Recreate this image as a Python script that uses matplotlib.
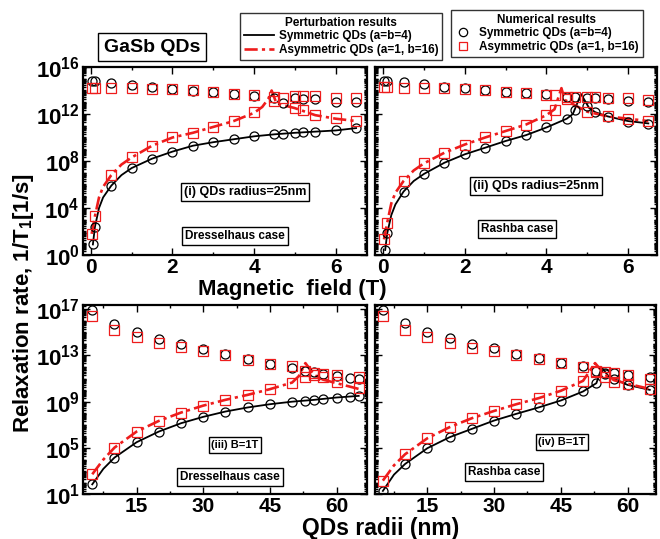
import numpy as np
import matplotlib
matplotlib.use('Agg')
import matplotlib.pyplot as plt
from matplotlib.lines import Line2D
from matplotlib.ticker import FixedLocator, NullFormatter

plt.rcParams['font.family'] = ['Liberation Sans', 'DejaVu Sans']
plt.rcParams['font.weight'] = 'bold'
plt.rcParams['mathtext.fontset'] = 'custom'
plt.rcParams['mathtext.rm'] = 'Liberation Sans:bold'
plt.rcParams['mathtext.bf'] = 'Liberation Sans:bold'
plt.rcParams['mathtext.it'] = 'Liberation Sans:bold'

# ---------------- data (log10 of relaxation rate, 1/s) ----------------
# (i) Dresselhaus, R=25nm, vs magnetic field
tl_ch_x = [0.02, 0.1, 0.5, 1, 1.5, 2, 2.5, 3, 3.5, 4, 4.5, 4.7, 5, 5.2, 5.5, 6, 6.5]
tl_ch_y = [14.8, 14.8, 14.67, 14.5, 14.3, 14.1, 13.95, 13.85, 13.7, 13.56, 13.4, 12.9, 13.35, 13.3, 13.28, 13.05, 13.0]
tl_sh_x = [0.02, 0.1, 0.5, 1, 1.5, 2, 2.5, 3, 3.5, 4, 4.5, 4.7, 5, 5.2, 5.5, 6, 6.5]
tl_sh_y = [14.2, 14.2, 14.2, 14.2, 14.1, 14.1, 14.0, 13.85, 13.7, 13.6, 13.45, 13.4, 13.56, 13.56, 13.5, 13.4, 13.4]
tl_cl_x = [0.05, 0.1, 0.5, 1, 1.5, 2, 2.5, 3, 3.5, 4, 4.5, 4.7, 5, 5.2, 5.5, 6, 6.5]
tl_cl_y = [0.9, 2.4, 5.9, 7.4, 8.2, 8.8, 9.3, 9.6, 9.85, 10.1, 10.27, 10.3, 10.4, 10.45, 10.5, 10.6, 10.8]
tl_sl_x = [0.02, 0.1, 0.5, 1, 1.5, 2, 2.5, 3, 3.5, 4, 4.5, 5, 5.2, 5.5, 6, 6.5]
tl_sl_y = [1.8, 3.3, 6.8, 8.3, 9.3, 10.0, 10.4, 10.9, 11.4, 12.14, 13.1, 12.5, 12.3, 11.9, 11.7, 11.4]
tl_sym_x = [0.05, 0.1, 0.2, 0.3, 0.5, 0.75, 1, 1.5, 2, 2.5, 3, 3.5, 4, 4.5, 5, 5.5, 6, 6.5]
tl_sym_y = [0.9, 2.4, 4.0, 4.9, 5.9, 6.8, 7.4, 8.2, 8.8, 9.3, 9.6, 9.85, 10.1, 10.27, 10.4, 10.5, 10.6, 10.8]
tl_asy_x = [0.02, 0.1, 0.2, 0.3, 0.5, 0.75, 1, 1.5, 2, 2.5, 3, 3.5, 4, 4.2, 4.35, 4.43, 4.55, 5, 5.5, 6, 6.5]
tl_asy_y = [1.8, 3.3, 4.9, 5.8, 6.8, 7.7, 8.3, 9.3, 10.0, 10.4, 10.9, 11.4, 12.1, 12.6, 13.3, 14.0, 12.9, 12.5, 11.9, 11.6, 11.4]

# (ii) Rashba, R=25nm, vs magnetic field
tr_ch_x = [0.02, 0.1, 0.5, 1, 1.5, 2, 2.5, 3, 3.5, 4, 4.5, 4.7, 5, 5.2, 5.5, 6, 6.5]
tr_ch_y = [14.83, 14.83, 14.75, 14.55, 14.3, 14.2, 14.0, 13.9, 13.76, 13.67, 13.42, 13.42, 13.33, 13.33, 13.28, 13.13, 13.05]
tr_sh_x = [0.02, 0.1, 0.5, 1, 1.5, 2, 2.5, 3, 3.5, 4, 4.2, 4.5, 4.7, 5, 5.2, 5.5, 6, 6.5]
tr_sh_y = [14.27, 14.27, 14.2, 14.2, 14.2, 14.1, 14.0, 13.9, 13.76, 13.6, 13.6, 13.42, 13.47, 13.47, 13.47, 13.4, 13.4, 13.2]
tr_cl_x = [0.05, 0.1, 0.5, 1, 1.5, 2, 2.5, 3, 3.5, 4, 4.5, 4.7, 5, 5.2, 5.5, 6, 6.5]
tr_cl_y = [0.43, 1.85, 5.4, 6.9, 7.85, 8.57, 9.13, 9.7, 10.2, 10.87, 11.6, 12.3, 12.7, 12.2, 11.77, 11.35, 11.15]
tr_sl_x = [0.02, 0.1, 0.5, 1, 1.5, 2, 2.5, 3, 3.5, 4, 4.2, 4.5, 5, 5.5, 6, 6.5]
tr_sl_y = [1.33, 2.75, 6.3, 7.8, 8.7, 9.4, 10.0, 10.55, 11.1, 11.9, 12.35, 13.3, 12.2, 11.8, 11.6, 11.4]
tr_sym_x = [0.05, 0.1, 0.2, 0.3, 0.5, 0.75, 1, 1.5, 2, 2.5, 3, 3.5, 4, 4.5, 4.65, 4.85, 5.05, 5.2, 5.5, 6, 6.5]
tr_sym_y = [0.43, 1.85, 3.4, 4.3, 5.4, 6.3, 6.9, 7.85, 8.57, 9.13, 9.7, 10.2, 10.85, 11.6, 12.0, 13.7, 12.5, 12.15, 11.8, 11.4, 11.2]
tr_asy_x = [0.02, 0.1, 0.2, 0.3, 0.5, 0.75, 1, 1.5, 2, 2.5, 3, 3.5, 4, 4.2, 4.37, 4.45, 5, 5.5, 6, 6.5]
tr_asy_y = [1.33, 2.75, 4.4, 5.3, 6.3, 7.2, 7.8, 8.7, 9.4, 10.0, 10.55, 11.1, 11.9, 12.4, 14.2, 13.2, 12.2, 11.8, 11.6, 11.4]

# (iii) Dresselhaus, B=1T, vs radius
bl_ch_x = [5, 10, 15, 20, 25, 30, 35, 40, 45, 50, 53, 55, 57, 60, 63, 65]
bl_ch_y = [16.94, 15.73, 14.98, 14.43, 13.97, 13.54, 13.1, 12.68, 12.27, 11.95, 11.67, 11.55, 11.38, 11.26, 11.03, 10.95]
bl_sh_x = [5, 10, 15, 20, 25, 30, 35, 40, 45, 50, 53, 55, 57, 60, 65]
bl_sh_y = [16.36, 15.2, 14.55, 14.06, 13.68, 13.34, 13.0, 12.6, 12.27, 12.04, 11.67, 11.47, 11.4, 11.3, 11.09]
bl_cl_x = [5, 10, 15, 20, 25, 30, 35, 40, 45, 50, 53, 55, 57, 60, 63, 65]
bl_cl_y = [1.86, 4.17, 5.5, 6.42, 7.14, 7.69, 8.15, 8.5, 8.78, 9.0, 9.1, 9.16, 9.2, 9.36, 9.44, 9.5]
bl_sl_x = [5, 10, 15, 20, 25, 30, 35, 40, 45, 50, 53, 55, 57, 60, 65]
bl_sl_y = [2.73, 5.03, 6.42, 7.34, 8.06, 8.66, 9.16, 9.59, 10.08, 10.65, 11.09, 11.32, 11.17, 10.69, 10.17]
bl_sym_x = [5, 7.5, 10, 15, 20, 25, 30, 35, 40, 45, 50, 55, 60, 65]
bl_sym_y = [1.86, 3.2, 4.17, 5.5, 6.42, 7.14, 7.69, 8.15, 8.5, 8.78, 9.0, 9.16, 9.36, 9.5]
bl_asy_x = [5, 7.5, 10, 15, 20, 25, 30, 35, 40, 45, 50, 51.5, 53, 55, 57, 60, 65]
bl_asy_y = [2.73, 4.0, 5.03, 6.42, 7.34, 8.06, 8.66, 9.16, 9.59, 10.08, 10.65, 11.2, 12.33, 11.3, 10.9, 10.6, 10.1]

# (iv) Rashba, B=1T, vs radius
br_ch_x = [5, 10, 15, 20, 25, 30, 35, 40, 45, 50, 53, 55, 57, 60, 65]
br_ch_y = [16.94, 15.8, 15.0, 14.5, 14.0, 13.63, 13.1, 12.76, 12.38, 12.04, 11.67, 11.47, 11.45, 11.3, 11.09]
br_sh_x = [5, 10, 15, 20, 25, 30, 35, 40, 45, 50, 53, 55, 57, 60, 65]
br_sh_y = [16.36, 15.2, 14.55, 14.06, 13.63, 13.34, 13.0, 12.68, 12.3, 12.0, 11.6, 11.55, 11.5, 11.3, 11.0]
br_cl_x = [5, 10, 15, 20, 25, 30, 35, 40, 45, 50, 53, 55, 57, 60, 65]
br_cl_y = [1.29, 3.62, 4.98, 5.93, 6.65, 7.37, 7.95, 8.5, 9.1, 9.88, 10.6, 11.38, 11.0, 10.4, 10.02]
br_sl_x = [5, 10, 15, 20, 25, 30, 35, 40, 45, 50, 53, 55, 57, 60, 65]
br_sl_y = [2.18, 4.46, 5.84, 6.8, 7.57, 8.2, 8.78, 9.3, 9.94, 10.8, 11.67, 11.17, 10.74, 10.5, 10.1]
br_sym_x = [5, 7.5, 10, 15, 20, 25, 30, 35, 40, 45, 50, 53, 54.2, 55.8, 60, 65]
br_sym_y = [1.29, 2.7, 3.62, 4.98, 5.93, 6.65, 7.37, 7.95, 8.5, 9.1, 9.88, 10.6, 11.95, 11.17, 10.45, 10.02]
br_asy_x = [5, 7.5, 10, 15, 20, 25, 30, 35, 40, 45, 50, 52.7, 55, 57, 60, 65]
br_asy_y = [2.18, 3.5, 4.46, 5.84, 6.8, 7.57, 8.2, 8.78, 9.3, 9.94, 10.8, 12.33, 11.3, 10.85, 10.55, 10.1]

field_ticks = [0, 2, 4, 6]
radius_ticks = [15, 30, 45, 60]
top_yexp = [0, 4, 8, 12, 16]
bot_yexp = [1, 5, 9, 13, 17]

RED = '#ee1c1c'
DASHDOT = (0, (5, 1.6, 1.2, 1.6))

fig = plt.figure(figsize=(6.6, 5.39), dpi=100)
W, H = 660.0, 539.0

def F(x, y):
    return x / W, 1 - y / H

def fpos(x0, y0, x1, y1):
    return [x0 / W, 1 - y1 / H, (x1 - x0) / W, (y1 - y0) / H]

def panel(rect, xlim, ylim, xticks, xminor, yexp, showy, data):
    ax = fig.add_axes(rect)
    (chx, chy, shx, shy, clx, cly, slx, sly, symx, symy, asx, asy) = data
    ax.plot(symx, 10.0 ** np.array(symy), color='black', lw=1.3, zorder=3)
    ax.plot(asx, 10.0 ** np.array(asy), color=RED, lw=1.9,
            linestyle=DASHDOT, zorder=3)
    mk = dict(linestyle='none', markersize=6.5, markeredgewidth=0.9,
              markerfacecolor='none', zorder=4)
    ax.plot(chx, 10.0 ** np.array(chy), marker='o', markeredgecolor='black', **mk)
    ax.plot(clx, 10.0 ** np.array(cly), marker='o', markeredgecolor='black', **mk)
    ax.plot(shx, 10.0 ** np.array(shy), marker='s', markeredgecolor=RED, **mk)
    ax.plot(slx, 10.0 ** np.array(sly), marker='s', markeredgecolor=RED, **mk)
    ax.set_yscale('log')
    ax.set_xlim(*xlim)
    ax.set_ylim(10.0 ** ylim[0], 10.0 ** ylim[1])
    ax.xaxis.set_major_locator(FixedLocator(xticks))
    ax.xaxis.set_minor_locator(FixedLocator(xminor))
    ax.set_xticklabels([str(t) for t in xticks], fontsize=15, fontweight='bold')
    ax.yaxis.set_major_locator(FixedLocator([10.0 ** e for e in yexp]))
    minors = []
    for d in range(int(np.floor(ylim[0])) - 1, int(np.ceil(ylim[1])) + 1):
        for s in range(1, 10):
            v = 10.0 ** d * s
            if 10.0 ** ylim[0] <= v <= 10.0 ** ylim[1]:
                minors.append(v)
    ax.yaxis.set_minor_locator(FixedLocator(minors))
    ax.yaxis.set_minor_formatter(NullFormatter())
    if showy:
        ax.set_yticklabels([r'$\mathbf{10^{%d}}$' % e for e in yexp], fontsize=16)
    else:
        ax.set_yticklabels([])
    ax.tick_params(which='both', direction='in', top=True, right=True, width=1.0)
    ax.tick_params(which='major', length=5, pad=2)
    ax.tick_params(which='minor', length=2.5)
    for s in ax.spines.values():
        s.set_linewidth(1.6)
    return ax

def boxtext(ax, x, y, s, size):
    ax.text(x, y, s, transform=fig.transFigure, ha='center', va='center',
            fontsize=size, fontweight='bold', zorder=6,
            bbox=dict(boxstyle='square,pad=0.25', facecolor='white',
                      edgecolor='black', linewidth=1.0))

ax1 = panel(fpos(82.7, 67, 366.7, 255), (-0.2, 6.76), (0, 16), field_ticks,
            [1, 3, 5], top_yexp, True,
            (tl_ch_x, tl_ch_y, tl_sh_x, tl_sh_y, tl_cl_x, tl_cl_y, tl_sl_x, tl_sl_y,
             tl_sym_x, tl_sym_y, tl_asy_x, tl_asy_y))
ax2 = panel(fpos(375, 67, 656.5, 255), (-0.2, 6.7), (0, 16), field_ticks,
            [1, 3, 5], top_yexp, False,
            (tr_ch_x, tr_ch_y, tr_sh_x, tr_sh_y, tr_cl_x, tr_cl_y, tr_sl_x, tr_sl_y,
             tr_sym_x, tr_sym_y, tr_asy_x, tr_asy_y))
ax3 = panel(fpos(82.7, 305, 366.7, 494.3), (2.85, 66.8), (1, 17.35), radius_ticks,
            [7.5, 22.5, 37.5, 52.5], bot_yexp, True,
            (bl_ch_x, bl_ch_y, bl_sh_x, bl_sh_y, bl_cl_x, bl_cl_y, bl_sl_x, bl_sl_y,
             bl_sym_x, bl_sym_y, bl_asy_x, bl_asy_y))
ax4 = panel(fpos(375.3, 305, 656, 494.3), (3.3, 66.4), (1, 17.35), radius_ticks,
            [7.5, 22.5, 37.5, 52.5], bot_yexp, False,
            (br_ch_x, br_ch_y, br_sh_x, br_sh_y, br_cl_x, br_cl_y, br_sl_x, br_sl_y,
             br_sym_x, br_sym_y, br_asy_x, br_asy_y))

# panel annotations
boxtext(ax1, *F(245, 192), '(i) QDs radius=25nm', 9)
boxtext(ax1, *F(235, 236), 'Dresselhaus case', 8.5)
boxtext(ax2, *F(536, 186), '(ii) QDs radius=25nm', 9)
boxtext(ax2, *F(517, 229), 'Rashba case', 8.5)
boxtext(ax3, *F(235, 445), '(iii) B=1T', 8)
boxtext(ax3, *F(230, 477), 'Dresselhaus case', 8.5)
boxtext(ax4, *F(562, 442), '(iv) B=1T', 8)
boxtext(ax4, *F(504, 472), 'Rashba case', 8.5)

# GaSb QDs label
fig.text(*F(152, 47), 'GaSb QDs', ha='center', va='center', fontsize=14,
         fontweight='bold',
         bbox=dict(boxstyle='square,pad=0.3', facecolor='white',
                   edgecolor='black', linewidth=1.0))

# axis labels
fig.text(*F(292, 290), 'Magnetic  field (T)', ha='center', va='center',
         fontsize=16, fontweight='bold')
fig.text(*F(381, 528), 'QDs radii (nm)', ha='center', va='center',
         fontsize=16.5, fontweight='bold')
fig.text(*F(24, 303), r'Relaxation rate, 1/T$_\mathbf{1}$[1/s]', ha='center',
         va='center', rotation=90, fontsize=16, fontweight='bold')

# legends
h1 = [Line2D([], [], color='black', lw=1.3),
      Line2D([], [], color=RED, lw=1.9, linestyle=DASHDOT)]
leg1 = fig.legend(h1, ['Symmetric QDs (a=b=4)', 'Asymmetric QDs (a=1, b=16)'],
                  title='Perturbation results', loc='upper left',
                  bbox_to_anchor=F(240, 13), fontsize=8.5, title_fontsize=8.5,
                  frameon=True, fancybox=False, edgecolor='black',
                  borderpad=0.3, labelspacing=0.15, handlelength=2.6,
                  handletextpad=0.4, borderaxespad=0)
leg1.get_frame().set_linewidth(1.0)
leg1.get_title().set_fontweight('bold')
h2 = [Line2D([], [], marker='o', linestyle='none', markerfacecolor='none',
             markeredgecolor='black', markersize=6, markeredgewidth=0.9),
      Line2D([], [], marker='s', linestyle='none', markerfacecolor='none',
             markeredgecolor=RED, markersize=6, markeredgewidth=0.9)]
leg2 = fig.legend(h2, ['Symmetric QDs (a=b=4)', 'Asymmetric QDs (a=1, b=16)'],
                  title='Numerical results', loc='upper left',
                  bbox_to_anchor=F(451, 10), fontsize=8.5, title_fontsize=8.5,
                  frameon=True, fancybox=False, edgecolor='black',
                  borderpad=0.3, labelspacing=0.15, handlelength=1.5,
                  handletextpad=0.6, borderaxespad=0)
leg2.get_frame().set_linewidth(1.0)
leg2.get_title().set_fontweight('bold')

fig.savefig('out.png', dpi=100)
